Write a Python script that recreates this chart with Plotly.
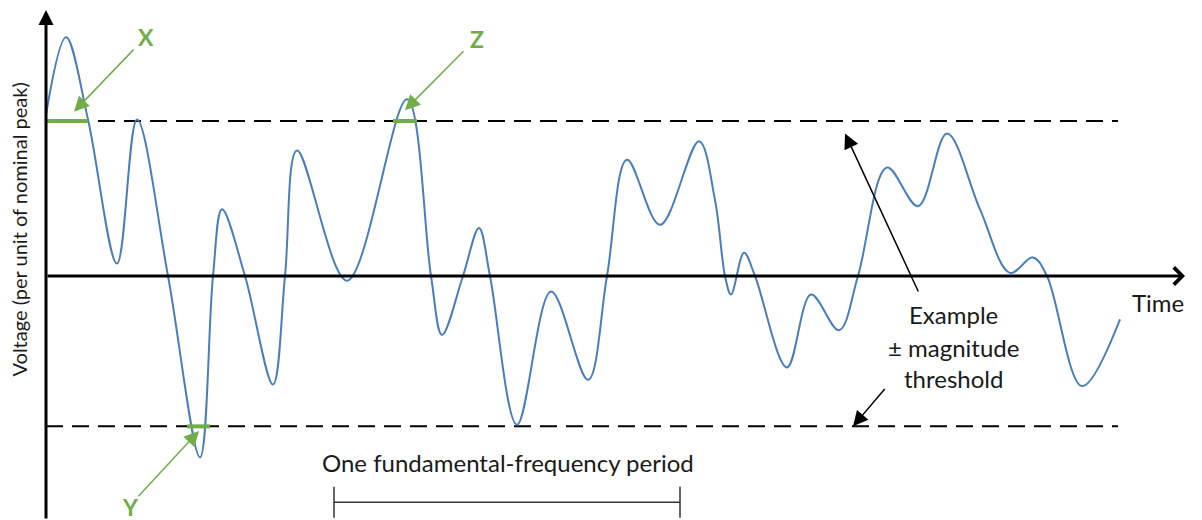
import plotly.graph_objects as go

# ---- data (time in arbitrary sample units, voltage in per unit of nominal peak) ----
time = [0, 20, 42, 71, 91, 122, 154, 167, 176, 199, 227, 239, 251, 301, 361, 385, 396,
        417, 433, 444, 471, 505, 542, 561, 581, 614, 653, 669, 679, 685, 698, 709, 741,
        765, 793, 812, 841, 872, 901, 934, 964, 987, 1001, 1036, 1074]
voltage = [1.04, 1.54, 1.01, 0.08, 1.01, 0.0, -1.17, 0.0, 0.43, 0.0, -0.70, 0.0, 0.81,
           -0.03, 1.14, 0.0, -0.38, 0.0, 0.31, 0.0, -0.96, -0.10, -0.67, 0.0, 0.75, 0.33,
           0.87, 0.49, 0.0, -0.12, 0.15, 0.0, -0.59, -0.12, -0.35, 0.0, 0.70, 0.45, 0.92,
           0.43, 0.02, 0.12, 0.0, -0.71, -0.28]

upper_threshold = 1.0
lower_threshold = -0.97
threshold_end = 1072

exceed_labels = ["X", "Y", "Z"]
exceed_start = [0, 141, 347]
exceed_end = [42, 164, 371]
exceed_level = [1.0, -0.97, 1.0]

period_start = 288
period_length = 346
period_level = -1.46

x_range = [-46, 1156]
y_range = [-1.5742, 1.7806]
axis_end_time = 1139
axis_top = 1.716

BLUE = "#4a7ebb"
GREEN = "#70ad47"
FONT = "Lato"

fig = go.Figure()

# threshold lines
for lvl in (upper_threshold, lower_threshold):
    fig.add_trace(go.Scatter(x=[0, threshold_end], y=[lvl, lvl], mode="lines",
                             line=dict(color="black", width=2, dash="17px,9px"),
                             hoverinfo="skip"))

# waveform
fig.add_trace(go.Scatter(x=time, y=voltage, mode="lines",
                         line=dict(color=BLUE, width=2, shape="spline", smoothing=1.0)))

# exceedance segments
for s, e, lvl in zip(exceed_start, exceed_end, exceed_level):
    fig.add_trace(go.Scatter(x=[s, e], y=[lvl, lvl], mode="lines",
                             line=dict(color=GREEN, width=4), hoverinfo="skip"))

# period bar
p0, p1 = period_start, period_start + period_length
fig.add_trace(go.Scatter(
    x=[p0, p1, None, p0, p0, None, p1, p1],
    y=[period_level, period_level, None, period_level + 0.10, period_level - 0.10, None,
       period_level + 0.10, period_level - 0.10],
    mode="lines", line=dict(color="#333333", width=1.5), hoverinfo="skip"))

ann = []
# axes with arrows
ann.append(dict(x=axis_end_time, y=0, ax=0, ay=0, xref="x", yref="y", axref="x", ayref="y",
                text="", showarrow=True, arrowhead=4, arrowwidth=3, arrowsize=1.1,
                arrowcolor="black", standoff=0))
ann.append(dict(x=0, y=axis_top, ax=0, ay=y_range[0], xref="x", yref="y", axref="x", ayref="y",
                text="", showarrow=True, arrowhead=2, arrowwidth=3, arrowsize=1,
                arrowcolor="black", standoff=0))

# X / Y / Z labels and arrows
label_pos = {"X": (100, 1.54), "Y": (84, -1.49), "Z": (431, 1.53)}
arrow_tail = {"X": (89, 1.47), "Y": (91, -1.43), "Z": (419, 1.46)}
arrow_tip = {"X": (28, 1.06), "Y": (153, -1.0), "Z": (359, 1.07)}
for lab in exceed_labels:
    lx, ly = label_pos[lab]
    ann.append(dict(x=lx, y=ly, xref="x", yref="y", text="<b>%s</b>" % lab, showarrow=False,
                    font=dict(family=FONT, size=23, color=GREEN)))
    tx, ty = arrow_tail[lab]
    hx, hy = arrow_tip[lab]
    ann.append(dict(x=hx, y=hy, ax=tx, ay=ty, xref="x", yref="y", axref="x", ayref="y",
                    text="", showarrow=True, arrowhead=2, arrowwidth=1.5, arrowsize=2,
                    arrowcolor=GREEN, standoff=0))

# threshold pointer arrows
ann.append(dict(x=799, y=0.92, ax=873, ay=-0.11, xref="x", yref="y", axref="x", ayref="y",
                text="", showarrow=True, arrowhead=2, arrowwidth=1.5, arrowsize=2,
                arrowcolor="black", standoff=0))
ann.append(dict(x=807, y=-0.97, ax=840, ay=-0.72, xref="x", yref="y", axref="x", ayref="y",
                text="", showarrow=True, arrowhead=2, arrowwidth=1.5, arrowsize=2,
                arrowcolor="black", standoff=0))

# texts
txt_font = dict(family=FONT, size=24, color="#1a1a1a")
ann.append(dict(x=907, y=-0.25, xref="x", yref="y", text="Example", showarrow=False, font=txt_font))
ann.append(dict(x=907, y=-0.46, xref="x", yref="y", text="± magnitude", showarrow=False, font=txt_font))
ann.append(dict(x=907, y=-0.66, xref="x", yref="y", text="threshold", showarrow=False, font=txt_font))
ann.append(dict(x=1112, y=-0.17, xref="x", yref="y", text="Time", showarrow=False, font=txt_font))
ann.append(dict(x=462, y=-1.2, xref="x", yref="y", text="One fundamental-frequency period",
                showarrow=False, font=txt_font))
ann.append(dict(x=-28, y=0.30, xref="x", yref="y", text="Voltage (per unit of nominal peak)",
                textangle=-90, showarrow=False,
                font=dict(family=FONT, size=20, color="#1a1a1a")))

fig.update_layout(
    width=1202, height=520, margin=dict(l=0, r=0, t=0, b=0),
    paper_bgcolor="white", plot_bgcolor="white", showlegend=False,
    xaxis=dict(range=x_range, visible=False, fixedrange=True),
    yaxis=dict(range=y_range, visible=False, fixedrange=True),
    annotations=ann,
)

fig.write_html("out.html", config={"displayModeBar": False},
               post_script="document.body.style.margin='0';")
